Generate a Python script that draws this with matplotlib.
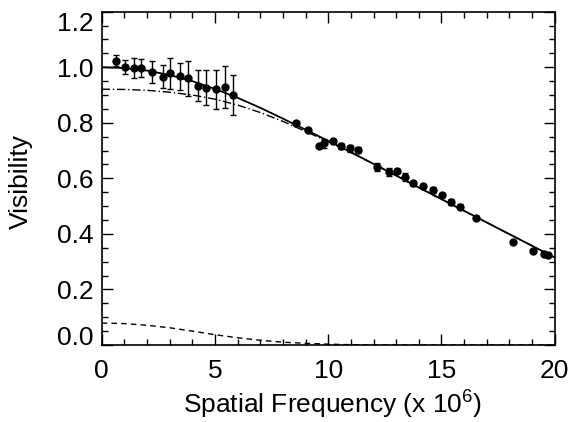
import numpy as np
import matplotlib
matplotlib.use('Agg')
import matplotlib.pyplot as plt
from matplotlib.ticker import MultipleLocator

plt.rcParams['font.family'] = ['Liberation Sans', 'DejaVu Sans']
plt.rcParams['mathtext.fontset'] = 'custom'
plt.rcParams['mathtext.rm'] = 'Liberation Sans'

# measured visibilities
freq = [0.63, 1.03, 1.43, 1.75, 2.24, 2.71, 3.03, 3.47, 3.82, 4.24, 4.59, 5.06, 5.43, 5.78,
        8.56, 9.09, 9.58, 9.80, 10.23, 10.58, 10.98, 11.30, 12.15, 12.67, 13.02, 13.40,
        13.76, 14.17, 14.61, 15.01, 15.42, 15.82, 16.53, 18.15, 19.06, 19.54, 19.72]
vis = [1.023, 1.002, 0.998, 0.996, 0.984, 0.966, 0.978, 0.968, 0.960, 0.934, 0.926, 0.920, 0.928, 0.900,
       0.800, 0.775, 0.716, 0.726, 0.733, 0.717, 0.708, 0.702, 0.640, 0.624, 0.626, 0.605,
       0.582, 0.572, 0.558, 0.540, 0.515, 0.498, 0.458, 0.372, 0.340, 0.328, 0.325]
err = [0.020, 0.025, 0.037, 0.032, 0.040, 0.041, 0.056, 0.049, 0.064, 0.056, 0.063, 0.069, 0.075, 0.073,
       0.007, 0.006, 0.005, 0.015, 0.006, 0.012, 0.012, 0.010, 0.015, 0.015, 0.008, 0.015,
       0.008, 0.008, 0.010, 0.008, 0.012, 0.010, 0.005, 0.004, 0.005, 0.006, 0.006]

# model curves
u_model = [0, 1, 2, 3, 4, 5, 6, 7, 8, 9, 10, 11, 12, 13, 14, 15, 16, 17, 18, 19, 20]
v_total = [1.000, 0.997, 0.988, 0.972, 0.950, 0.922, 0.890, 0.854, 0.815, 0.775, 0.735,
           0.694, 0.652, 0.610, 0.567, 0.525, 0.483, 0.441, 0.399, 0.357, 0.315]
v_star = [0.921, 0.920, 0.917, 0.910, 0.900, 0.885, 0.864, 0.837, 0.805, 0.769, 0.732,
          0.693, 0.652, 0.610, 0.567, 0.525, 0.483, 0.441, 0.399, 0.357, 0.315]
v_env = [0.079, 0.077, 0.071, 0.062, 0.050, 0.037, 0.026, 0.017, 0.010, 0.006, 0.003,
         0.001, 0.0, 0.0, 0.0, 0.0, 0.0, 0.0, 0.0, 0.0, 0.0]

yticks = [0.0, 0.2, 0.4, 0.6, 0.8, 1.0, 1.2]

fig = plt.figure(figsize=(5.72, 4.22), dpi=100)
ax = fig.add_axes([0.1778, 0.1825, 0.792, 0.7898])

ax.plot(u_model, v_total, '-', color='black', lw=1.3)
ax.plot(u_model, v_star, color='black', lw=1.0, dashes=[6, 2, 1, 2])
ax.plot(u_model, v_env, color='black', lw=1.0, dashes=[4, 3])
ax.errorbar(freq, vis, yerr=err, fmt='o', color='black', ms=5, elinewidth=1.0,
            capsize=2.5, capthick=1.0)

ax.set_xlim(0, 20)
ax.set_ylim(0, 1.2)
ax.xaxis.set_major_locator(MultipleLocator(5))
ax.xaxis.set_minor_locator(MultipleLocator(1))
ax.set_yticks(yticks)
ax.set_yticklabels(['%.1f' % t for t in yticks])
ax.yaxis.set_minor_locator(MultipleLocator(0.05))
ax.tick_params(which='both', direction='in', top=True, right=True, labelsize=19, width=1.0)
ax.tick_params(axis='y', which='major', length=8, pad=6)
ax.tick_params(axis='x', which='major', length=8, pad=10)
ax.tick_params(which='minor', length=4)
for s in ax.spines.values():
    s.set_linewidth(1.2)

# IDL style: end labels kept inside the axis range
labs = ax.get_yticklabels()
labs[0].set_va('baseline')
labs[-1].set_va('top')

ax.set_xlabel(r'Spatial Frequency (x 10$^{6}$)', fontsize=19)
ax.set_ylabel('Visibility', fontsize=19)
ax.xaxis.set_label_coords(0.51, -0.125)
ax.yaxis.set_label_coords(-0.152, 0.49)

fig.savefig('out.png', dpi=100)
